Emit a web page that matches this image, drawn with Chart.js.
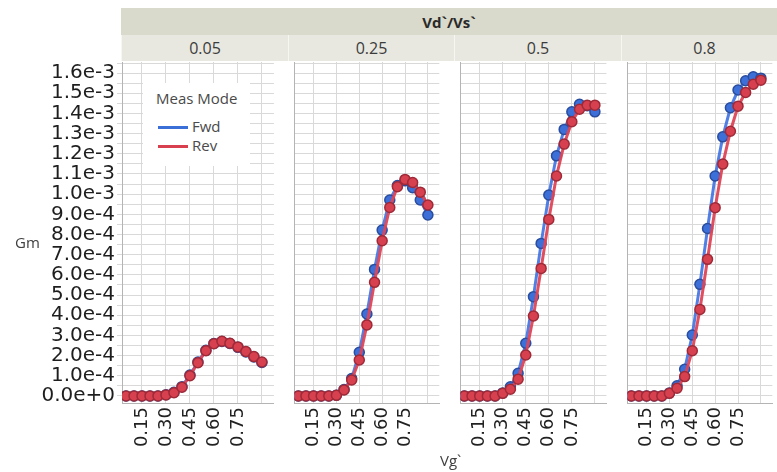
<!DOCTYPE html>
<html>
<head>
<meta charset="utf-8">
<script src="https://cdn.jsdelivr.net/npm/chart.js@4/dist/chart.umd.min.js"></script>
<style>
  html, body { margin: 0; padding: 0; }
  body { width: 777px; height: 472px; overflow: hidden; position: relative; background: #fff;
         font-family: "Open Sans", "Noto Sans", sans-serif; }
  canvas.panel { position: absolute; top: 42px; }
  .band-top { position: absolute; left: 121px; top: 8px; width: 656px; height: 27px;
              background: #d9dacb; font-weight: bold; font-size: 15px; color: #2a2a2a;
              display: flex; align-items: center; justify-content: center; z-index: 3; }
  .facet { position: absolute; top: 35px; height: 26px; background: #e8e8e0; font-size: 16px;
           color: #3c3c3c; display: flex; align-items: center; justify-content: center;
           border-left: 1px solid #f7f7f2; box-sizing: border-box; z-index: 3; }
  .legend { position: absolute; left: 143px; top: 83px; width: 107px; height: 83px;
            background: #fff; z-index: 4; color: #4a4a4a; font-size: 15px; }
  .legend .title { position: absolute; left: 13px; top: 5px; white-space: nowrap; }
  .legend .sw { position: absolute; left: 15px; width: 30px; height: 3px; }
  .legend .lbl { position: absolute; left: 49px; white-space: nowrap; }
  .axis-title { position: absolute; font-size: 15px; color: #404040; z-index: 4; }
</style>
</head>
<body>
<div class="band-top">Vd`/Vs`</div>
<div class="facet" style="left:121px;width:167px;">0.05</div>
<div class="facet" style="left:288px;width:166px;">0.25</div>
<div class="facet" style="left:454px;width:167px;">0.5</div>
<div class="facet" style="left:621px;width:166px;">0.8</div>

<canvas class="panel" id="p0" width="288" height="430" style="left:0px;"></canvas>
<canvas class="panel" id="p1" width="166" height="430" style="left:288px;"></canvas>
<canvas class="panel" id="p2" width="167" height="430" style="left:454px;"></canvas>
<canvas class="panel" id="p3" width="166" height="430" style="left:621px;"></canvas>

<div class="legend">
  <div class="title">Meas Mode</div>
  <div class="sw" style="top:43px;background:#3a6fd8;"></div>
  <div class="lbl" style="top:33px;">Fwd</div>
  <div class="sw" style="top:62px;background:#d8404f;"></div>
  <div class="lbl" style="top:52px;">Rev</div>
</div>
<div class="axis-title" style="left:15px;top:232px;">Gm</div>
<div class="axis-title" style="left:440px;top:450px;">Vg`</div>

<script>
// Gate voltage sweep (Vg`), shared by every panel
const vg = [0.05, 0.10, 0.15, 0.20, 0.25, 0.30, 0.35, 0.40, 0.45,
            0.50, 0.55, 0.60, 0.65, 0.70, 0.75, 0.80, 0.85, 0.90];

// Panel labels (Vd`/Vs` ratio)
const ratios = ['0.05', '0.25', '0.5', '0.8'];

// Transconductance Gm, in units of 1e-4 S, forward sweep
const gmFwd005 = [0, 0, 0, 0, 0, 0.06, 0.18, 0.46, 1.04, 1.68, 2.26, 2.60, 2.70, 2.60, 2.41, 2.18, 1.93, 1.66];
const gmFwd025 = [0, 0, 0, 0, 0, 0.04, 0.32, 0.86, 2.16, 4.06, 6.27, 8.22, 9.71, 10.43, 10.66, 10.32, 9.71, 8.97];
const gmFwd050 = [0, 0, 0, 0, 0, 0.15, 0.45, 1.12, 2.61, 4.92, 7.56, 9.96, 11.90, 13.21, 14.08, 14.45, 14.38, 14.08];
const gmFwd080 = [0, 0, 0, 0, 0, 0.15, 0.50, 1.32, 3.02, 5.53, 8.30, 10.90, 12.84, 14.28, 15.16, 15.62, 15.82, 15.75];

// Transconductance Gm, in units of 1e-4 S, reverse sweep
const gmRev005 = [0, 0, 0, 0, 0, 0.05, 0.16, 0.43, 1.00, 1.65, 2.24, 2.59, 2.71, 2.61, 2.43, 2.20, 1.95, 1.68];
const gmRev025 = [0, 0, 0, 0, 0, 0.03, 0.30, 0.79, 1.78, 3.52, 5.63, 7.69, 9.34, 10.37, 10.73, 10.58, 10.10, 9.46];
const gmRev050 = [0, 0, 0, 0, 0, 0.13, 0.33, 0.83, 2.03, 3.96, 6.32, 8.75, 10.90, 12.48, 13.59, 14.21, 14.41, 14.41];
const gmRev080 = [0, 0, 0, 0, 0, 0.13, 0.38, 0.96, 2.24, 4.29, 6.77, 9.33, 11.49, 13.12, 14.36, 15.04, 15.45, 15.65];

const fwdSeries = [gmFwd005, gmFwd025, gmFwd050, gmFwd080];
const revSeries = [gmRev005, gmRev025, gmRev050, gmRev080];
const GM_UNIT = 1e-4;

// Axis tick positions
const xTicks = [0.15, 0.30, 0.45, 0.60, 0.75, 0.90];
const yStep = 5e-5;
const yTickCount = 34; // 0 .. 1.65e-3

const GRID = '#d9d9d9';
const FRAME = '#b4b4b4';

function pts(vals) {
  return vg.map((x, i) => ({ x: x, y: vals[i] * GM_UNIT }));
}

function makePanel(canvasId, idx) {
  const first = idx === 0;
  return new Chart(document.getElementById(canvasId), {
    type: 'line',
    data: {
      datasets: [
        {
          label: 'Fwd', data: pts(fwdSeries[idx]), order: 1,
          borderColor: 'rgba(72,120,226,0.95)', borderWidth: 3,
          pointBackgroundColor: '#3d6fd8', pointBorderColor: '#2a4d9e',
          pointBorderWidth: 1.5, pointRadius: 5, tension: 0
        },
        {
          label: 'Rev', data: pts(revSeries[idx]), order: 0,
          borderColor: 'rgba(222,70,86,0.95)', borderWidth: 3,
          pointBackgroundColor: '#d7404f', pointBorderColor: '#9e2a38',
          pointBorderWidth: 1.5, pointRadius: 5, tension: 0
        }
      ]
    },
    options: {
      responsive: false,
      animation: false,
      layout: { padding: { top: 20, right: 0, bottom: 0, left: 0 } },
      plugins: { legend: { display: false }, tooltip: { enabled: false } },
      scales: {
        x: {
          type: 'linear', min: 0.025, max: 0.975,
          afterBuildTicks: s => { s.ticks = xTicks.map(v => ({ value: v })); },
          afterFit: s => { s.height = 69; },
          grid: { color: GRID, drawTicks: false },
          border: { display: true, color: FRAME, width: 1 },
          ticks: {
            autoSkip: false, minRotation: 90, maxRotation: 90, padding: 4,
            color: '#222', font: { family: 'DejaVu Sans', size: 18 },
            callback: v => (v > 0.89 ? '' : v.toFixed(2))
          }
        },
        y: {
          type: 'linear', min: -3.5e-5, max: 1.655e-3,
          afterBuildTicks: s => {
            const t = [];
            for (let k = 0; k < yTickCount; k++) t.push({ value: k * yStep });
            s.ticks = t;
          },
          afterFit: s => { s.width = first ? 122 : 0; },
          grid: { color: GRID, drawTicks: first, tickLength: 5 },
          border: { display: true, color: FRAME, width: 1 },
          ticks: {
            display: first, autoSkip: false, padding: 2,
            color: '#1e1e1e', font: { family: 'DejaVu Sans', size: 20 },
            callback: (v, i) => (i % 2 === 0 ? (Math.round(v / yStep) * yStep).toExponential(1) : '')
          }
        }
      }
    }
  });
}

['p0', 'p1', 'p2', 'p3'].forEach((id, i) => makePanel(id, i));
</script>
</body>
</html>
